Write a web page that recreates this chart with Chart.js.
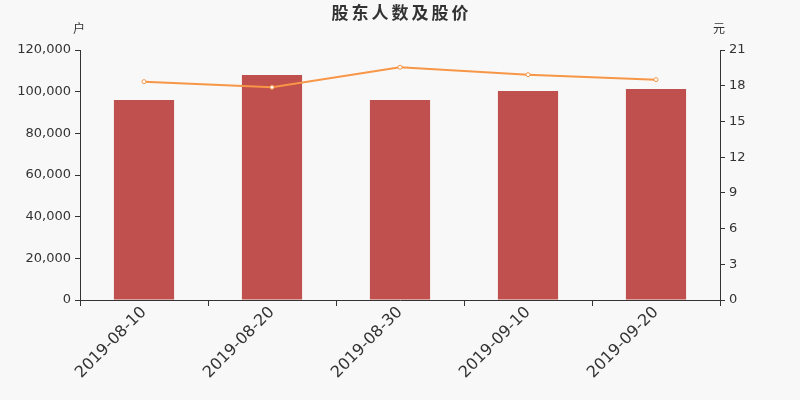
<!DOCTYPE html>
<html>
<head>
<meta charset="utf-8">
<script src="https://cdn.jsdelivr.net/npm/chart.js@4/dist/chart.umd.min.js"></script>
<style>
  html, body { margin: 0; padding: 0; background: #f8f8f8; }
  #wrap { width: 800px; height: 400px; }
</style>
</head>
<body>
<div id="wrap"><canvas id="chart"></canvas></div>
<script>
const dates = ['2019-08-10', '2019-08-20', '2019-08-30', '2019-09-10', '2019-09-20'];
const holders = [96000, 108000, 96000, 100300, 101300];
const prices = [18.34, 17.87, 19.55, 18.93, 18.51];

const textColor = '#333';
const tickFont = { family: 'DejaVu Sans', size: 13 };

// title and axis units drawn at fixed spots
const labelsPlugin = {
    id: 'labels',
    afterDraw(chart) {
        const ctx = chart.ctx;
        ctx.save();
        ctx.fillStyle = textColor;
        ctx.textBaseline = 'middle';
        ctx.textAlign = 'center';
        ctx.font = 'bold 17px "Noto Sans CJK SC"';
        const title = '股东人数及股价';
        const pitch = 20;
        const x0 = 400 - pitch * (title.length - 1) / 2;
        for (let i = 0; i < title.length; i++) {
            ctx.fillText(title[i], x0 + i * pitch, 13);
        }
        ctx.font = '12px "Noto Sans CJK SC"';
        ctx.fillText('户', 79, 28);
        ctx.fillText('元', 719, 28);
        ctx.restore();
    }
};

new Chart(document.getElementById('chart'), {
    data: {
        labels: dates,
        datasets: [
            {
                type: 'line',
                data: prices,
                yAxisID: 'y1',
                borderColor: '#f79646',
                borderWidth: 2,
                pointRadius: 2,
                pointBorderWidth: 1,
                pointBackgroundColor: '#fff',
                pointBorderColor: '#f79646',
                tension: 0,
                order: 0
            },
            {
                type: 'bar',
                data: holders,
                yAxisID: 'y',
                backgroundColor: '#c0504d',
                barPercentage: 0.47,
                categoryPercentage: 1,
                order: 1
            }
        ]
    },
    options: {
        responsive: true,
        maintainAspectRatio: false,
        animation: false,
        devicePixelRatio: 1,
        layout: { padding: { top: 50, left: 0, right: 0, bottom: 0 } },
        plugins: {
            legend: { display: false },
            tooltip: { enabled: false }
        },
        scales: {
            x: {
                offset: true,
                afterFit(scale) { scale.height = 100; },
                grid: {
                    offset: true,
                    drawOnChartArea: false,
                    tickLength: 6,
                    tickColor: textColor
                },
                border: { color: textColor, width: 1 },
                ticks: {
                    color: textColor,
                    font: { family: 'DejaVu Sans', size: 16 },
                    minRotation: 45,
                    maxRotation: 45,
                    padding: -3
                }
            },
            y: {
                position: 'left',
                min: 0,
                max: 120000,
                afterFit(scale) { scale.width = 80; },
                grid: {
                    drawOnChartArea: false,
                    tickLength: 5,
                    tickColor: textColor
                },
                border: { color: textColor, width: 1 },
                ticks: {
                    stepSize: 20000,
                    color: textColor,
                    font: tickFont,
                    padding: 4,
                    callback: v => v.toLocaleString('en-US')
                }
            },
            y1: {
                position: 'right',
                min: 0,
                max: 21,
                afterFit(scale) { scale.width = 80; },
                grid: {
                    drawOnChartArea: false,
                    tickLength: 5,
                    tickColor: textColor
                },
                border: { color: textColor, width: 1 },
                ticks: {
                    stepSize: 3,
                    color: textColor,
                    font: tickFont,
                    padding: 4
                }
            }
        }
    },
    plugins: [labelsPlugin]
});
</script>
</body>
</html>
